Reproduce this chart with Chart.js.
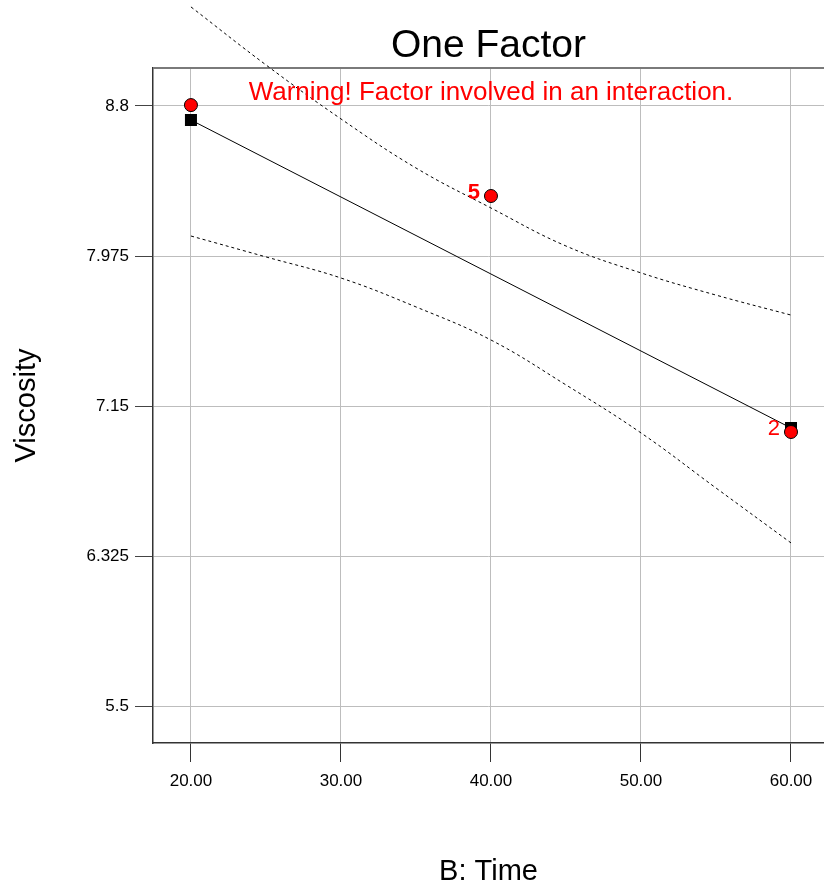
<!DOCTYPE html>
<html>
<head>
<meta charset="utf-8">
<title>One Factor</title>
<script src="https://cdn.jsdelivr.net/npm/chart.js@4.4.1/dist/chart.umd.min.js"></script>
<style>
  html, body { margin: 0; padding: 0; background: #fff; overflow: hidden; }
  #wrap { width: 824px; height: 890px; }
</style>
</head>
<body>
<div id="wrap"><canvas id="oneFactorChart" width="824" height="890"></canvas></div>
<script>
// B: Time axis
const timeTicks = [20, 30, 40, 50, 60];
const timeTickLabels = ["20.00", "30.00", "40.00", "50.00", "60.00"];

// Viscosity axis
const viscosityTicks = [5.5, 6.325, 7.15, 7.975, 8.8];
const viscosityTickLabels = ["5.5", "6.325", "7.15", "7.975", "8.8"];

// observed design points (red) and how many runs sit on them
const observedTime = [20, 40, 60];
const observedViscosity = [8.805, 8.305, 7.007];
const observedCounts = ["", "5", "2"];

// model prediction (black squares + line)
const predictedTime = [20, 60];
const predictedViscosity = [8.723, 7.029];

// confidence bands (dotted)
const bandTime = [20, 25, 30, 35, 40, 45, 50, 55, 60];
const upperBand = [9.345, 9.026, 8.729, 8.459, 8.239, 8.03, 7.882, 7.76, 7.65];
const lowerBand = [8.085, 7.97, 7.854, 7.695, 7.513, 7.266, 7.002, 6.699, 6.397];

const warningText = "Warning! Factor involved in an interaction.";

function toPoints(xs, ys) {
  return xs.map((x, i) => ({ x: x, y: ys[i] }));
}

Chart.defaults.font.family = '"Liberation Sans", Arial, sans-serif';
Chart.defaults.color = "#000";

const FONT = '"Liberation Sans", Arial, sans-serif';

// top frame line, warning text and run counts
const extrasPlugin = {
  id: "extras",
  beforeDatasetsDraw(chart) {
    const { ctx, chartArea } = chart;
    ctx.save();
    ctx.strokeStyle = "#7a7a7a";
    ctx.lineWidth = 2;
    ctx.beginPath();
    ctx.moveTo(chartArea.left, chartArea.top);
    ctx.lineTo(chartArea.right, chartArea.top);
    ctx.stroke();
    ctx.restore();
  },
  afterDatasetsDraw(chart) {
    const { ctx, chartArea } = chart;
    const x = chart.scales.x;
    const y = chart.scales.y;
    ctx.save();
    ctx.fillStyle = "#ff0000";
    ctx.textBaseline = "middle";

    ctx.font = "26px " + FONT;
    ctx.textAlign = "center";
    ctx.fillText(warningText, x.getPixelForValue(40), chartArea.top + 25);

    ctx.textAlign = "right";
    observedCounts.forEach((c, i) => {
      if (!c) return;
      ctx.font = (c === "5" ? "bold " : "") + "22px " + FONT;
      ctx.fillText(c, x.getPixelForValue(observedTime[i]) - 11,
        y.getPixelForValue(observedViscosity[i]) - 3);
    });
    ctx.restore();
  }
};

const ctx = document.getElementById("oneFactorChart");
const oneFactorChart = new Chart(ctx, {
  type: "scatter",
  data: {
    datasets: [
      {
        label: "Observed",
        data: toPoints(observedTime, observedViscosity),
        showLine: false,
        pointStyle: "circle",
        pointRadius: 6.5,
        pointBackgroundColor: "#ff0000",
        pointBorderColor: "#000",
        pointBorderWidth: 1,
        order: 0,
      },
      {
        label: "Predicted",
        data: toPoints(predictedTime, predictedViscosity),
        showLine: true,
        borderColor: "#000",
        borderWidth: 1,
        pointStyle: "rect",
        pointRadius: 8.5,
        pointBackgroundColor: "#000",
        pointBorderColor: "#000",
        pointBorderWidth: 0,
        order: 1,
      },
      {
        label: "Upper band",
        data: toPoints(bandTime, upperBand),
        showLine: true,
        borderColor: "#000",
        borderWidth: 1,
        borderDash: [3, 3],
        pointRadius: 0,
        tension: 0.4,
        clip: false,
        order: 2,
      },
      {
        label: "Lower band",
        data: toPoints(bandTime, lowerBand),
        showLine: true,
        borderColor: "#000",
        borderWidth: 1,
        borderDash: [3, 3],
        pointRadius: 0,
        tension: 0.4,
        clip: false,
        order: 3,
      },
    ],
  },
  options: {
    responsive: false,
    animation: false,
    devicePixelRatio: 1,
    layout: { padding: 0, autoPadding: false },
    plugins: {
      legend: { display: false },
      tooltip: { enabled: false },
      title: {
        display: true,
        text: "One Factor",
        fullSize: false,
        color: "#000",
        font: { size: 39, weight: "normal", lineHeight: 1.1 },
        padding: { top: 24.5, bottom: 0.6 },
      },
    },
    scales: {
      x: {
        type: "linear",
        min: 17.47,
        max: 62.2,
        afterBuildTicks: (scale) => {
          scale.ticks = timeTicks.map((v) => ({ value: v }));
        },
        afterFit: (scale) => {
          scale.height = 147;
          scale.paddingLeft = 0;
          scale.paddingRight = 0;
        },
        ticks: {
          font: { size: 17 },
          color: "#000",
          padding: 9,
          maxRotation: 0,
          callback: (value) => timeTickLabels[timeTicks.indexOf(value)],
        },
        grid: {
          color: "#bdbdbd",
          tickColor: "#333",
          tickLength: 19,
        },
        border: { color: "#333", width: 1.5 },
        title: {
          display: true,
          text: "B: Time",
          font: { size: 29 },
          color: "#000",
          padding: { top: 0, bottom: 1 },
        },
      },
      y: {
        type: "linear",
        min: 5.2965,
        max: 9.009,
        afterBuildTicks: (scale) => {
          scale.ticks = viscosityTicks.map((v) => ({ value: v }));
        },
        afterFit: (scale) => {
          scale.width = 153;
          scale.paddingTop = 0;
          scale.paddingBottom = 0;
        },
        ticks: {
          font: { size: 17 },
          color: "#000",
          padding: 6,
          callback: (value) => viscosityTickLabels[viscosityTicks.indexOf(value)],
        },
        grid: {
          color: "#bdbdbd",
          tickColor: "#444",
          tickLength: 18,
        },
        border: { color: "#333", width: 1.5 },
        title: {
          display: true,
          text: "Viscosity",
          font: { size: 29 },
          color: "#000",
          padding: { top: 10, bottom: 0 },
        },
      },
    },
  },
  plugins: [extrasPlugin],
});
</script>
</body>
</html>
